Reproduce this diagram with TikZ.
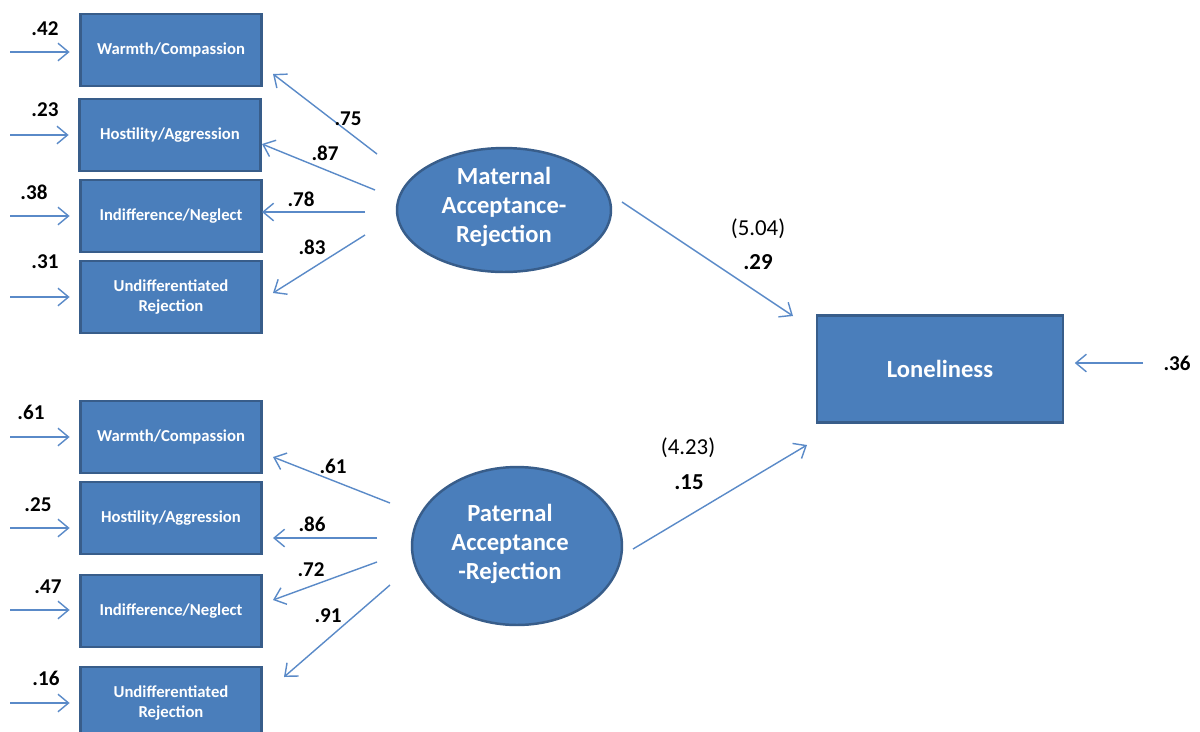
\documentclass[tikz,border=0pt]{standalone}
\usepackage{fontspec}
\setmainfont{Carlito}
\usetikzlibrary{arrows.meta,shapes.geometric}

\definecolor{boxfill}{HTML}{4A7EBB}
\definecolor{boxline}{HTML}{385D8A}
\definecolor{arrowblue}{HTML}{5A8AC8}

\tikzset{
  indbox/.style={draw=boxline, line width=1.4pt, fill=boxfill, minimum width=3.62cm,
    minimum height=1.44cm, inner sep=0pt, text=white, align=center,
    font=\fontsize{9.5}{11.3}\selectfont\bfseries},
  latent/.style={ellipse, draw=boxline, line width=1.4pt, fill=boxfill, inner sep=0pt},
  lattext/.style={text=white, align=center, font=\fontsize{14}{16.5}\selectfont\bfseries},
  conn/.style={draw=arrowblue, line width=0.8pt, -{Straight Barb[length=6pt,width=10pt]}},
  lbl/.style={inner sep=0pt, font=\fontsize{12}{14}\selectfont\bfseries},
  coef/.style={inner sep=0pt, font=\fontsize{13}{15}\selectfont}
}

\begin{document}
\begin{tikzpicture}[x=0.02cm, y=-0.02cm]
    \useasboundingbox[fill=white] (0,0) rectangle (1200,731);
    \clip (0,0) rectangle (1200,731);

    % maternal indicators
    \node[indbox] (mw) at (171,50)  {Warmth/Compassion};
    \node[indbox] (mh) at (170,135) {Hostility/Aggression};
    \node[indbox] (mi) at (171,216) {Indifference/Neglect};
    \node[indbox] (mu) at (171,297) {Undifferentiated\\Rejection};

    % paternal indicators
    \node[indbox] (pw) at (171,437) {Warmth/Compassion};
    \node[indbox] (ph) at (171,518) {Hostility/Aggression};
    \node[indbox] (pi) at (171,611) {Indifference/Neglect};
    \node[indbox] (pu) at (171,703) {Undifferentiated\\Rejection};

    % latent variables and outcome
    \node[latent, minimum width=4.28cm, minimum height=2.48cm] (mat) at (504,210) {};
    \node[lattext] (mattext) at (504,207) {Maternal\\Acceptance-\\Rejection};
    \node[latent, minimum width=4.2cm, minimum height=3.16cm] (pat) at (517,546) {};
    \node[lattext] (pattext) at (510,544) {Paternal\\Acceptance\\-Rejection};
    \node[indbox, minimum width=4.92cm, minimum height=2.14cm,
          font=\fontsize{14}{16}\selectfont\bfseries] (lon) at (940,369) {Loneliness};

    % error terms
    \foreach \b/\y/\v/\lx/\ly in {mw/52/.42/45/29, mh/135/.23/45/110, mi/216/.38/34/192,
        mu/297/.31/45/262, pw/437/.61/31/412, ph/528/.25/38/505, pi/610/.47/48/587,
        pu/703/.16/46/678}{
      \coordinate (e\b) at (10,\y);
      \draw[conn, shorten >=5.5pt] (e\b) -- (e\b -| \b.west);
      \node[lbl] (l\b) at (\lx,\ly) {\v};
    }
    \coordinate (elon) at (1143,363);
    \draw[conn, shorten >=6pt] (elon) -- (elon -| lon.east);
    \node[lbl] (llon) at (1177,363) {.36};

    % loadings
    \coordinate (t1) at (377,154); \coordinate (h1) at (273,74);
    \coordinate (t2) at (375,190); \coordinate (h2) at (262,144);
    \coordinate (t3) at (365,212); \coordinate (h3) at (262,212);
    \coordinate (t4) at (365,235); \coordinate (h4) at (273,293);
    \coordinate (t5) at (390,503); \coordinate (h5) at (273,457);
    \coordinate (t6) at (377,538); \coordinate (h6) at (273,538);
    \coordinate (t7) at (377,562); \coordinate (h7) at (273,600);
    \coordinate (t8) at (390,585); \coordinate (h8) at (284,677);
    \foreach \i/\v/\lx/\ly in {1/.75/348/119, 2/.87/325/153, 3/.78/301/199, 4/.83/312/247,
        5/.61/333/466, 6/.86/312/524, 7/.72/311/570, 8/.91/328/616}{
      \draw[conn] (t\i) -- (h\i);
      \node[lbl] (ld\i) at (\lx,\ly) {\v};
    }

    % structural paths
    \coordinate (tm) at (622,202); \coordinate (hm) at (793,316);
    \coordinate (tp) at (633,549); \coordinate (hp) at (807,445);
    \draw[conn] (tm) -- (hm);
    \draw[conn] (tp) -- (hp);
    \node[coef] (cm) at (758,229) {(5.04)};
    \node[lbl, font=\fontsize{13}{15}\selectfont\bfseries] (bm) at (758,262) {.29};
    \node[coef] (cp) at (688,448) {(4.23)};
    \node[lbl, font=\fontsize{13}{15}\selectfont\bfseries] (bp) at (689,482) {.15};
\end{tikzpicture}
\end{document}
